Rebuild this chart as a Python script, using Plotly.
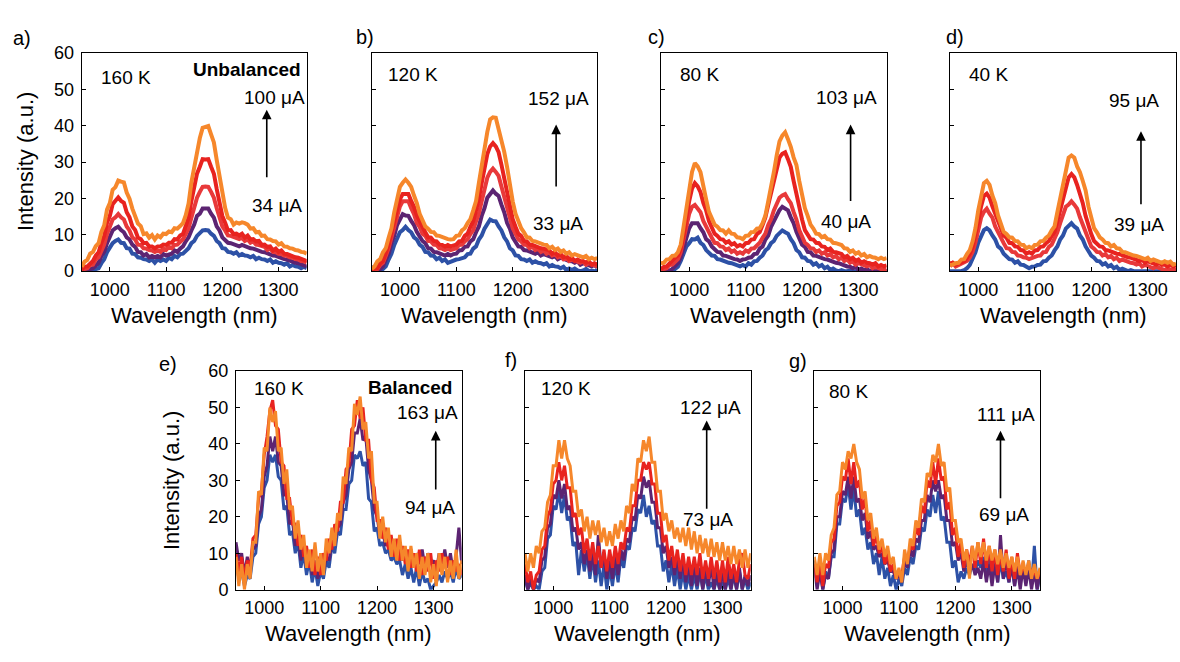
import plotly.graph_objects as go

# Wavelength grid shared by every spectrum (nm)
wavelength = list(range(950, 1351, 5))

# ---- a) 160 K, unbalanced: 34 uA (blue) ... 100 uA (orange)
a_blue = [0.0, 0.0, 0.2, 0.0, 0.1, 0.6, 0.8, 2.2, 3.3, 5.2,
          6.3, 7.7, 8.3, 8.7, 7.8, 7.7, 6.3, 6.2, 4.8, 4.7,
          3.8, 3.7, 3.3, 3.2, 2.8, 3.2, 2.3, 3.2, 2.8, 3.2,
          2.8, 3.7, 3.3, 4.2, 3.8, 4.7, 4.8, 5.7, 6.3, 7.7,
          8.3, 9.7, 10.3, 11.2, 11.3, 11.2, 10.3, 9.7, 8.3, 7.7,
          6.3, 6.2, 5.3, 5.2, 4.8, 5.2, 4.3, 4.7, 4.3, 4.2,
          3.8, 4.2, 3.3, 3.7, 3.3, 3.2, 2.8, 3.2, 2.3, 2.7,
          2.3, 2.2, 1.8, 2.2, 1.3, 1.7, 1.3, 1.2, 0.8, 1.2,
          0.8]
a_purple = [0.0, 0.2, 0.0, 0.6, 0.8, 1.7, 2.3, 4.2, 5.3, 7.7,
            9.3, 11.2, 11.8, 12.2, 11.3, 10.7, 9.3, 8.7, 7.3, 6.7,
            5.3, 5.2, 4.3, 4.7, 3.8, 4.2, 3.8, 4.2, 3.8, 4.7,
            4.3, 4.7, 4.8, 5.7, 5.3, 6.2, 6.8, 8.2, 9.3, 11.2,
            12.8, 15.2, 15.8, 17.2, 17.3, 17.2, 15.8, 14.7, 12.3, 11.2,
            9.3, 8.7, 7.8, 7.7, 7.3, 7.2, 6.8, 7.2, 6.8, 6.7,
            6.3, 6.2, 5.8, 5.7, 5.3, 5.2, 4.8, 4.7, 4.3, 4.2,
            3.8, 3.7, 3.3, 3.2, 2.8, 2.7, 2.3, 2.2, 1.8, 1.7,
            1.3]
a_red1 = [0.0, 0.6, 0.8, 1.7, 1.8, 3.2, 3.8, 5.7, 7.3, 10.2,
          12.3, 14.2, 14.8, 15.7, 14.8, 14.2, 12.3, 11.2, 9.3, 8.7,
          7.3, 7.2, 6.3, 6.2, 5.8, 5.7, 5.3, 5.7, 5.3, 6.2,
          5.8, 6.7, 6.3, 7.2, 7.3, 8.2, 8.8, 10.2, 11.8, 14.7,
          17.3, 20.2, 21.8, 23.2, 23.3, 23.2, 21.8, 20.2, 17.3, 15.2,
          12.3, 11.2, 9.8, 9.7, 9.3, 9.2, 8.8, 9.2, 8.3, 8.7,
          7.8, 8.2, 7.3, 7.2, 6.8, 6.7, 5.8, 6.2, 5.3, 5.2,
          4.8, 4.7, 4.3, 4.2, 3.8, 3.7, 3.3, 3.2, 2.8, 2.7,
          2.3]
a_red2 = [0.4, 1.2, 1.3, 2.2, 2.8, 4.3, 5.2, 7.8, 9.7, 13.3,
          15.2, 18.4, 19.2, 20.3, 19.3, 18.8, 16.2, 14.8, 12.3, 11.3,
          9.2, 8.8, 7.7, 7.8, 6.8, 6.8, 6.3, 6.8, 6.8, 7.3,
          7.2, 7.8, 7.8, 8.8, 8.7, 9.8, 10.2, 12.3, 14.7, 19.3,
          22.7, 26.8, 28.7, 30.8, 30.7, 30.8, 28.7, 26.8, 22.6, 19.3,
          15.2, 13.3, 11.2, 11.3, 10.2, 10.3, 9.8, 10.3, 9.2, 9.8,
          8.7, 8.8, 8.2, 8.3, 7.2, 7.3, 6.7, 6.8, 5.7, 6.2,
          5.3, 5.7, 4.8, 4.7, 4.3, 4.2, 3.8, 3.7, 3.3, 3.2,
          2.8]
a_orange = [1.2, 2.6, 3.1, 4.8, 5.3, 6.9, 7.7, 10.8, 12.6, 16.9,
            18.7, 22.4, 23.1, 24.9, 24.6, 24.4, 21.6, 19.9, 17.2, 15.4,
            13.1, 12.4, 10.2, 10.4, 9.2, 9.9, 8.7, 9.8, 9.3, 10.3,
            10.2, 10.9, 10.7, 11.8, 11.7, 12.4, 13.2, 15.4, 18.6, 24.4,
            28.7, 33.4, 36.6, 39.4, 39.7, 39.9, 37.6, 35.4, 30.6, 26.4,
            20.7, 17.4, 14.7, 14.3, 12.8, 13.4, 13.1, 13.4, 13.2, 12.8,
            11.7, 11.8, 10.7, 10.8, 9.7, 9.8, 8.8, 8.7, 8.3, 8.2,
            7.3, 7.7, 6.8, 6.7, 6.3, 6.2, 5.8, 5.7, 5.3, 5.2,
            4.8]

# ---- b) 120 K: 33 uA ... 152 uA
b_blue = [0.8, 1.2, 0.3, 0.0, 0.6, 1.3, 3.2, 4.8, 7.2, 8.8,
          10.7, 11.3, 12.2, 11.3, 10.7, 9.3, 8.7, 7.3, 6.7, 5.3,
          5.2, 4.3, 4.2, 3.3, 3.7, 2.8, 3.2, 2.3, 2.7, 2.8,
          3.2, 3.3, 3.7, 3.8, 4.7, 4.8, 6.2, 6.8, 8.7, 9.8,
          11.7, 12.8, 14.2, 13.8, 13.7, 12.3, 11.2, 9.3, 8.2, 6.3,
          5.7, 4.3, 4.2, 3.3, 3.2, 2.8, 3.2, 2.3, 2.7, 2.3,
          2.2, 1.8, 2.2, 1.3, 1.7, 1.3, 1.2, 0.8, 1.2, 0.3,
          0.7, 0.3, 0.7, 0.2, 0.0, 0.2, 0.6, 0.0, 0.2, 0.0,
          0.1]
b_purple = [0.0, 0.0, 0.2, 0.6, 1.3, 3.2, 4.8, 7.7, 9.8, 12.7,
            14.3, 15.7, 15.3, 15.2, 13.8, 12.7, 10.8, 9.7, 8.3, 7.7,
            6.3, 6.2, 5.3, 5.2, 4.8, 4.7, 4.3, 4.7, 4.3, 4.7,
            4.8, 5.7, 5.8, 6.7, 6.8, 8.2, 8.8, 10.7, 12.3, 15.2,
            17.3, 20.2, 21.3, 22.2, 21.3, 20.7, 18.3, 16.2, 13.3, 11.7,
            9.3, 8.2, 6.8, 6.7, 5.8, 5.7, 5.3, 5.2, 4.8, 5.2,
            4.3, 4.7, 4.3, 4.2, 3.8, 4.2, 3.3, 3.7, 3.3, 3.2,
            2.8, 2.7, 2.3, 2.7, 1.8, 2.2, 1.8, 1.7, 1.3, 1.7,
            1.0]
b_red1 = [0.0, 0.2, 0.6, 1.7, 2.3, 4.2, 6.3, 9.2, 12.3, 15.7,
          17.8, 19.2, 19.3, 19.2, 17.3, 15.7, 13.3, 12.2, 10.3, 9.7,
          8.3, 8.2, 7.3, 7.2, 6.3, 6.2, 5.8, 6.2, 5.8, 6.2,
          6.3, 7.2, 7.3, 8.2, 8.8, 10.2, 11.3, 13.7, 15.8, 19.2,
          22.3, 25.7, 27.3, 28.2, 27.3, 26.2, 23.3, 20.7, 17.3, 14.7,
          11.8, 10.2, 8.8, 8.2, 7.3, 7.2, 6.3, 6.7, 5.8, 6.2,
          5.3, 5.7, 4.8, 5.2, 4.3, 4.7, 3.8, 4.2, 3.3, 3.7,
          2.8, 3.2, 2.8, 2.7, 2.3, 2.7, 1.8, 2.2, 1.8, 1.7,
          1.3]
b_red2 = [0.0, 0.7, 0.8, 2.2, 2.8, 5.2, 7.3, 10.7, 13.8, 17.7,
          19.8, 21.2, 21.3, 21.2, 19.3, 17.7, 15.3, 13.7, 11.8, 10.7,
          9.3, 9.2, 8.3, 8.2, 7.3, 7.2, 6.8, 7.2, 6.8, 7.2,
          7.3, 8.2, 8.3, 9.7, 10.3, 12.2, 13.8, 16.7, 19.8, 24.2,
          27.8, 32.2, 34.3, 35.2, 34.3, 32.7, 29.3, 25.7, 21.3, 17.7,
          14.3, 12.2, 10.3, 9.7, 8.3, 8.2, 7.3, 7.2, 6.8, 6.7,
          6.3, 6.2, 5.8, 5.7, 4.8, 5.2, 4.3, 4.7, 3.8, 4.2,
          3.3, 3.7, 2.8, 3.2, 2.8, 2.7, 2.3, 2.7, 1.8, 2.2,
          1.8]
b_orange = [0.6, 1.3, 2.7, 3.3, 5.2, 6.3, 9.2, 11.8, 16.2, 19.8,
            23.2, 24.3, 25.2, 24.3, 23.2, 20.8, 18.7, 15.8, 14.2, 12.3,
            11.7, 10.8, 10.7, 9.8, 9.7, 9.3, 9.2, 8.8, 8.7, 8.8,
            9.7, 9.8, 11.2, 11.8, 13.2, 14.3, 16.7, 19.3, 24.2, 28.8,
            34.2, 38.3, 41.7, 42.3, 42.2, 39.3, 35.7, 32.8, 28.7, 23.3,
            19.2, 15.8, 13.7, 11.8, 10.7, 9.3, 9.2, 8.3, 8.2, 7.8,
            7.7, 7.3, 7.2, 6.3, 6.7, 5.8, 6.2, 5.3, 5.7, 4.8,
            5.2, 4.3, 4.7, 4.3, 4.2, 3.8, 4.2, 3.3, 3.7, 3.3,
            3.6]

# ---- c) 80 K: 40 uA ... 103 uA
c_blue = [0.0, 0.0, 0.1, 0.0, 0.0, 0.6, 1.2, 2.8, 4.7, 6.8,
          7.7, 8.8, 8.7, 9.2, 7.8, 7.2, 5.8, 5.2, 4.3, 4.2,
          3.3, 3.2, 2.8, 2.7, 2.3, 2.2, 1.8, 1.7, 1.3, 1.7,
          1.3, 2.2, 1.8, 2.7, 2.8, 3.7, 4.3, 5.7, 6.3, 7.7,
          8.3, 9.7, 10.3, 11.2, 10.7, 10.3, 8.8, 7.7, 5.8, 5.2,
          3.8, 3.7, 2.8, 2.7, 1.8, 2.2, 1.3, 1.7, 0.8, 1.2,
          0.3, 0.7, 0.2, 0.0, 0.3, 0.0, 0.0, 0.2, 0.0, 0.0,
          0.0, 0.1, 0.0, 0.0, 0.0, 0.0, 0.0, 0.0, 0.0, 0.0,
          0.0]
c_purple = [0.0, 0.1, 0.0, 0.2, 0.6, 1.3, 2.2, 3.8, 6.3, 9.2,
            11.8, 13.2, 13.3, 13.2, 11.8, 10.7, 8.8, 8.2, 6.8, 6.2,
            5.3, 5.2, 4.3, 4.2, 3.8, 3.7, 3.3, 3.2, 2.8, 3.2,
            3.3, 3.7, 3.8, 4.7, 4.8, 6.2, 6.8, 8.7, 9.8, 12.2,
            13.8, 15.7, 16.8, 17.7, 17.3, 16.7, 14.8, 13.2, 10.8, 9.2,
            7.3, 6.7, 5.3, 5.2, 4.3, 4.2, 3.8, 3.7, 3.3, 3.2,
            2.8, 2.7, 2.3, 2.2, 1.8, 1.7, 1.3, 1.2, 0.8, 1.2,
            0.3, 0.7, 0.3, 0.6, 0.0, 0.2, 0.0, 0.1, 0.0, 0.0,
            0.0]
c_red1 = [0.0, 0.6, 0.8, 1.7, 1.8, 2.7, 3.3, 5.2, 8.3, 12.2,
          15.8, 17.7, 18.2, 17.3, 16.2, 13.8, 12.2, 10.3, 9.2, 7.8,
          7.7, 6.8, 6.7, 5.8, 6.2, 5.3, 5.7, 4.8, 5.2, 4.8,
          5.7, 5.3, 6.2, 6.3, 7.2, 7.8, 9.2, 10.3, 12.7, 14.3,
          16.7, 18.3, 20.2, 20.8, 21.2, 19.8, 18.7, 16.3, 14.2, 11.3,
          9.7, 7.8, 7.2, 6.3, 6.2, 5.3, 5.7, 4.8, 5.2, 4.3,
          4.7, 3.8, 4.2, 3.3, 3.7, 2.8, 3.2, 2.3, 2.7, 1.8,
          2.2, 1.8, 1.7, 1.3, 1.7, 0.8, 1.2, 0.8, 0.7, 0.3,
          0.6]
c_red2 = [0.6, 1.2, 1.3, 2.2, 2.8, 3.7, 4.3, 6.2, 9.8, 14.7,
          19.3, 22.7, 24.2, 23.3, 21.7, 18.8, 16.7, 13.8, 12.2, 10.3,
          9.7, 8.8, 8.7, 7.8, 8.2, 7.3, 7.7, 6.8, 7.2, 6.8,
          7.7, 7.8, 8.7, 8.8, 10.2, 10.8, 12.7, 14.8, 18.2, 21.3,
          25.2, 28.3, 31.2, 32.3, 32.7, 30.8, 28.7, 24.8, 21.2, 16.8,
          14.2, 11.3, 10.2, 8.8, 8.7, 7.8, 7.7, 6.8, 6.7, 5.8,
          6.2, 5.3, 5.2, 4.8, 4.7, 3.8, 4.2, 3.3, 3.7, 2.8,
          3.2, 2.3, 2.7, 2.3, 2.2, 1.8, 2.2, 1.3, 1.7, 1.3,
          1.6]
c_orange = [2.2, 2.3, 3.2, 3.3, 4.2, 4.3, 5.2, 7.3, 12.2, 17.8,
            23.7, 27.3, 29.7, 28.8, 27.2, 22.8, 19.7, 16.3, 14.7, 12.8,
            12.2, 11.3, 11.2, 10.3, 11.2, 10.3, 10.2, 9.3, 9.2, 8.8,
            9.7, 9.8, 10.7, 10.8, 11.7, 11.8, 13.2, 15.3, 19.2, 22.8,
            27.2, 31.8, 35.7, 37.3, 38.2, 36.3, 34.2, 31.3, 29.2, 24.8,
            21.2, 17.3, 15.2, 12.8, 11.7, 10.3, 10.2, 9.3, 9.7, 8.8,
            8.7, 7.8, 7.7, 7.3, 7.2, 6.3, 6.2, 5.3, 5.7, 4.8,
            5.2, 4.3, 4.7, 3.8, 4.2, 3.8, 3.7, 3.3, 3.7, 3.3,
            3.6]

# ---- d) 40 K: 39 uA ... 95 uA
d_blue = [0.0, 0.0, 0.1, 0.0, 0.0, 0.3, 0.8, 1.7, 3.3, 5.2,
          7.8, 9.7, 11.3, 11.8, 11.2, 9.8, 8.7, 6.8, 6.2, 4.8,
          4.2, 3.3, 3.2, 2.3, 2.7, 1.8, 1.7, 1.3, 0.8, 1.2,
          1.3, 1.7, 1.8, 2.7, 2.8, 3.7, 4.3, 5.7, 6.8, 8.7,
          9.8, 11.7, 12.3, 13.2, 12.3, 11.7, 9.8, 8.7, 6.8, 5.7,
          4.3, 3.7, 2.8, 2.7, 1.8, 2.2, 1.3, 1.7, 0.8, 1.2,
          0.3, 0.7, 0.2, 0.0, 0.3, 0.0, 0.0, 0.1, 0.0, 0.0,
          0.0, 0.0, 0.0, 0.0, 0.0, 0.0, 0.0, 0.0, 0.0, 0.0,
          0.0]
d_red1 = [1.3, 2.2, 1.3, 1.7, 1.8, 2.3, 2.8, 3.7, 5.3, 7.8,
          11.2, 14.7, 16.3, 17.2, 15.8, 14.7, 12.3, 10.7, 8.8, 7.7,
          6.3, 6.2, 5.3, 5.2, 4.3, 4.2, 3.8, 3.7, 3.3, 3.7,
          3.8, 4.2, 4.3, 5.2, 5.3, 6.7, 7.3, 8.8, 10.7, 13.2,
          15.3, 17.7, 18.3, 19.2, 18.3, 17.2, 14.8, 12.7, 10.3, 8.7,
          6.8, 6.2, 5.3, 5.2, 4.3, 4.7, 3.8, 4.2, 3.3, 3.7,
          2.8, 3.2, 2.8, 2.7, 2.3, 2.2, 1.8, 2.2, 1.3, 1.7,
          1.3, 1.2, 0.8, 1.2, 0.8, 0.7, 0.3, 0.7, 0.3, 0.6,
          0.4]
d_red2 = [2.2, 2.3, 1.8, 2.2, 2.3, 2.8, 3.7, 4.8, 6.7, 9.8,
          13.7, 17.8, 20.7, 21.3, 20.2, 17.8, 15.7, 13.3, 11.2, 9.8,
          9.2, 7.8, 7.7, 6.8, 6.7, 5.8, 5.7, 4.8, 5.2, 4.8,
          5.7, 5.8, 6.7, 6.8, 7.7, 8.3, 9.7, 10.8, 13.7, 16.8,
          20.2, 23.7, 25.8, 26.7, 25.8, 23.7, 21.3, 18.7, 15.2, 12.3,
          10.2, 8.3, 7.7, 6.8, 6.7, 5.8, 5.7, 5.3, 5.2, 4.8,
          4.7, 4.3, 4.2, 3.8, 3.7, 3.3, 3.2, 2.8, 3.2, 2.3,
          2.7, 2.3, 2.2, 1.8, 2.2, 1.7, 1.8, 1.3, 1.7, 1.3,
          1.6]
d_orange = [1.7, 1.8, 2.2, 2.3, 3.2, 3.3, 4.7, 5.8, 8.2, 11.8,
            16.7, 20.8, 24.2, 24.8, 23.7, 20.8, 18.7, 15.3, 13.2, 10.8,
            10.2, 9.3, 9.2, 8.3, 8.2, 7.3, 7.2, 6.3, 6.7, 6.3,
            7.2, 7.3, 8.2, 8.3, 9.2, 9.8, 11.2, 12.3, 16.2, 19.8,
            23.7, 27.8, 31.2, 31.8, 31.2, 28.8, 27.2, 24.8, 22.2, 17.8,
            14.7, 11.8, 10.7, 9.3, 8.7, 7.8, 7.7, 6.8, 7.2, 6.3,
            6.2, 5.3, 5.2, 4.8, 4.7, 4.3, 4.2, 3.8, 3.7, 3.3,
            3.7, 2.8, 3.2, 2.8, 2.7, 2.3, 2.7, 2.3, 2.6, 1.8,
            2.1]

# ---- e) 160 K, balanced: 94 uA ... 163 uA
e_blue = [8, 3, 5, 1, 4, 3, 9, 10, 18, 20,
          28, 30, 37, 35, 37, 31, 30, 22, 23, 15,
          16, 10, 13, 6, 10, 4, 8, 2, 6, 1,
          5, 3, 8, 6, 12, 10, 16, 15, 22, 22,
          29, 30, 37, 36, 38, 34, 35, 25, 24, 16,
          17, 12, 13, 10, 11, 8, 9, 7, 8, 4,
          7, 3, 6, 2, 6, 1, 5, 2, 3, 0,
          1, 2, 4, 2, 5, 3, 5, 2, 6, 3,
          4]
e_purple = [13, 8, 10, 4, 9, 6, 11, 12, 20, 22,
            31, 34, 42, 38, 42, 35, 34, 26, 26, 18,
            19, 12, 15, 8, 12, 6, 10, 4, 8, 3,
            6, 5, 9, 8, 13, 13, 17, 18, 24, 26,
            33, 35, 43, 43, 47, 41, 42, 33, 30, 22,
            20, 15, 16, 12, 14, 10, 12, 9, 11, 8,
            10, 7, 11, 6, 10, 7, 11, 6, 10, 7,
            8, 5, 10, 6, 11, 6, 10, 5, 9, 17,
            7]
e_red = [10, 5, 9, 3, 8, 6, 14, 15, 25, 27,
         37, 42, 49, 52, 45, 44, 35, 34, 25, 25,
         18, 18, 12, 15, 9, 12, 6, 11, 4, 9,
         4, 10, 8, 14, 11, 18, 16, 24, 24, 33,
         34, 44, 45, 52, 47, 50, 41, 41, 30, 28,
         19, 19, 14, 17, 11, 15, 9, 14, 8, 12,
         7, 11, 6, 10, 5, 11, 4, 9, 5, 10,
         3, 8, 5, 10, 6, 9, 4, 8, 5, 7,
         4]
e_orange = [9, 1, 7, 0, 7, 3, 13, 13, 27, 26,
            39, 38, 50, 46, 49, 38, 39, 29, 33, 22,
            23, 14, 19, 11, 15, 6, 11, 5, 13, 5,
            10, 4, 14, 10, 17, 12, 21, 19, 31, 29,
            39, 38, 51, 48, 53, 44, 46, 36, 38, 24,
            24, 14, 20, 13, 17, 9, 14, 8, 15, 8,
            12, 5, 12, 6, 10, 3, 9, 4, 10, 2,
            7, 1, 10, 4, 9, 2, 8, 3, 11, 3,
            8]

# ---- f) 120 K, balanced: 73 uA ... 122 uA
f_blue = [3, 0, 2, 0, 1, 0, 5, 6, 14, 15,
          23, 22, 27, 21, 26, 19, 20, 12, 13, 4,
          11, 5, 10, 3, 9, 2, 8, 1, 7, 0,
          6, 1, 7, 2, 9, 6, 12, 11, 17, 16,
          22, 21, 26, 20, 23, 18, 19, 12, 12, 5,
          8, 2, 7, 1, 6, 0, 5, 0, 4, 0,
          4, 0, 5, 0, 4, 0, 2, 0, 3, 0,
          2, 0, 3, 0, 4, 0, 5, 0, 3, 0,
          2]
f_purple = [4, 0, 3, 0, 3, 2, 8, 9, 17, 18,
            26, 25, 30, 25, 29, 22, 23, 16, 17, 11,
            13, 7, 11, 5, 10, 4, 15, 6, 9, 3,
            8, 3, 9, 4, 11, 8, 14, 13, 20, 19,
            26, 25, 31, 28, 30, 24, 24, 17, 17, 10,
            12, 6, 9, 4, 9, 3, 8, 2, 7, 1,
            7, 1, 6, 0, 6, 1, 7, 0, 5, 0,
            5, 0, 6, 0, 5, 0, 6, 0, 4, 1,
            4]
f_red = [7, 2, 5, 0, 4, 5, 11, 12, 20, 22,
         29, 30, 35, 30, 34, 28, 28, 20, 21, 15,
         17, 10, 14, 8, 13, 7, 12, 6, 11, 5,
         11, 6, 12, 7, 13, 11, 17, 16, 23, 23,
         30, 30, 35, 33, 35, 29, 29, 21, 21, 13,
         15, 8, 12, 6, 11, 5, 10, 4, 9, 4,
         9, 4, 10, 3, 8, 3, 9, 3, 8, 2,
         8, 2, 9, 3, 7, 2, 8, 10, 4, 3,
         7]
f_orange = [10, 5, 10, 6, 12, 10, 16, 17, 24, 26,
            34, 34, 41, 36, 41, 36, 34, 27, 27, 20,
            22, 16, 20, 14, 19, 15, 19, 13, 17, 12,
            16, 12, 18, 14, 19, 16, 23, 21, 29, 27,
            36, 35, 41, 38, 42, 35, 35, 27, 27, 19,
            21, 16, 19, 14, 17, 13, 17, 12, 17, 11,
            16, 10, 15, 10, 14, 9, 14, 9, 13, 8,
            13, 8, 12, 7, 12, 7, 11, 6, 11, 6,
            10]

# ---- g) 80 K, balanced: 69 uA ... 111 uA
g_blue = [8, 2, 7, 0, 5, 3, 9, 9, 18, 18,
          25, 24, 29, 22, 28, 20, 22, 15, 17, 11,
          13, 7, 10, 4, 9, 3, 6, 1, 4, 0,
          3, 1, 6, 4, 9, 7, 12, 11, 17, 16,
          22, 20, 26, 21, 27, 19, 20, 13, 13, 6,
          8, 2, 5, 3, 6, 4, 7, 5, 8, 6,
          9, 3, 10, 4, 9, 2, 8, 3, 5, 2,
          7, 1, 8, 2, 7, 2, 8, 1, 12, 0,
          4]
g_purple = [6, 0, 5, 0, 4, 3, 10, 11, 20, 20,
            27, 26, 31, 25, 31, 24, 25, 19, 21, 14,
            16, 11, 12, 9, 10, 7, 8, 5, 5, 3,
            4, 2, 8, 6, 11, 9, 14, 13, 19, 19,
            26, 24, 30, 27, 30, 25, 26, 19, 19, 12,
            13, 8, 10, 5, 8, 5, 7, 4, 6, 3,
            8, 2, 7, 1, 7, 2, 15, 3, 9, 2,
            7, 1, 6, 0, 6, 1, 6, 0, 5, 0,
            5]
g_red = [7, 2, 8, 1, 7, 6, 13, 14, 23, 24,
         31, 30, 36, 29, 35, 28, 30, 22, 25, 16,
         19, 12, 15, 10, 12, 7, 10, 5, 7, 3,
         5, 4, 9, 8, 12, 11, 17, 15, 23, 21,
         30, 28, 35, 29, 36, 30, 31, 22, 24, 15,
         17, 9, 13, 6, 11, 7, 12, 6, 13, 7,
         14, 6, 12, 5, 11, 4, 10, 5, 11, 3,
         9, 3, 10, 4, 6, 5, 7, 4, 5, 3,
         5]
g_orange = [9, 4, 10, 4, 10, 8, 15, 17, 26, 27,
            35, 33, 38, 36, 40, 35, 33, 25, 27, 19,
            21, 14, 17, 11, 14, 9, 12, 7, 9, 3,
            6, 2, 11, 7, 14, 12, 19, 17, 25, 24,
            32, 31, 37, 35, 40, 34, 35, 27, 28, 19,
            19, 13, 14, 8, 11, 3, 12, 8, 13, 9,
            13, 8, 12, 8, 11, 7, 11, 6, 10, 6,
            9, 5, 9, 4, 8, 4, 8, 3, 7, 3,
            6]

# Tick values
x_ticks = [1000, 1100, 1200, 1300]
y_ticks = [0, 10, 20, 30, 40, 50, 60]

BLUE = "#2d51a6"
PURPLE = "#5c2472"
RED1 = "#e8393a"
RED2 = "#e8231f"
ORANGE = "#f6872b"
FONT = "Liberation Sans, Arial, Helvetica, sans-serif"

W, H = 1180, 662
TOP_Y = [1 - 269.3 / H, 1 - 44.3 / H]
BOT_Y = [1 - 597.7 / H, 1 - 372.3 / H]

panels = [
    dict(letter="a)", lx=22, ly=29, px=(81.7, 306.7), py=TOP_Y, yticks=True, width=4,
         series=[(a_blue, BLUE), (a_purple, PURPLE), (a_red1, RED1), (a_red2, RED2), (a_orange, ORANGE)],
         temp=("160 K", 1029, 53.3), tag=("Unbalanced", 1243, 55.4),
         hi=("100 μA", 1292, 47.8), lo=("34 μA", 1298, 18.0), arrow=(1279, 25.4, 44.4)),
    dict(letter="b)", lx=365, ly=28, px=(371.7, 597.3), py=TOP_Y, yticks=False, width=4,
         series=[(b_blue, BLUE), (b_purple, PURPLE), (b_red1, RED1), (b_red2, RED2), (b_orange, ORANGE)],
         temp=("120 K", 1023, 54.0), tag=None,
         hi=("152 μA", 1282, 47.4), lo=("33 μA", 1280, 13.1), arrow=(1277, 22.9, 40.3)),
    dict(letter="c)", lx=656, ly=28, px=(661.0, 886.7), py=TOP_Y, yticks=False, width=4,
         series=[(c_blue, BLUE), (c_purple, PURPLE), (c_red1, RED1), (c_red2, RED2), (c_orange, ORANGE)],
         temp=("80 K", 1018, 54.0), tag=None,
         hi=("103 μA", 1279, 47.8), lo=("40 μA", 1278, 13.6), arrow=(1286, 18.9, 40.3)),
    dict(letter="d)", lx=955, ly=28, px=(950.0, 1176.0), py=TOP_Y, yticks=False, width=4,
         series=[(d_blue, BLUE), (d_red1, RED1), (d_red2, RED2), (d_orange, ORANGE)],
         temp=("40 K", 1018, 54.0), tag=None,
         hi=("95 μA", 1275, 46.9), lo=("39 μA", 1284, 12.7), arrow=(1288, 18.0, 38.5)),
    dict(letter="e)", lx=168, ly=365, px=(236.0, 461.7), py=BOT_Y, yticks=True, width=3,
         series=[(e_blue, BLUE), (e_purple, PURPLE), (e_red, RED2), (e_orange, ORANGE)],
         temp=("160 K", 1027, 55.3), tag=("Balanced", 1259, 55.5),
         hi=("163 μA", 1289, 48.6), lo=("94 μA", 1294, 22.6), arrow=(1304, 27.1, 43.6)),
    dict(letter="f)", lx=511, ly=361, px=(525.0, 750.7), py=BOT_Y, yticks=False, width=3,
         series=[(f_blue, BLUE), (f_purple, PURPLE), (f_red, RED2), (f_orange, ORANGE)],
         temp=("120 K", 1023, 55.3), tag=None,
         hi=("122 μA", 1279, 50.1), lo=("73 μA", 1275, 19.2), arrow=(1272, 21.8, 46.4)),
    dict(letter="g)", lx=798, ly=362, px=(814.3, 1040.0), py=BOT_Y, yticks=False, width=3,
         series=[(g_blue, BLUE), (g_purple, PURPLE), (g_red, RED2), (g_orange, ORANGE)],
         temp=("80 K", 1010, 54.4), tag=None,
         hi=("111 μA", 1289, 48.2), lo=("69 μA", 1286, 20.7), arrow=(1280, 24.7, 43.6)),
]

fig = go.Figure()
layout = dict(width=W, height=H, margin=dict(l=0, r=0, t=0, b=0), autosize=False,
              paper_bgcolor="white", plot_bgcolor="white", showlegend=False,
              font=dict(family=FONT, color="black"))
annotations = []

for i, p in enumerate(panels):
    sfx = "" if i == 0 else str(i + 1)
    xa, ya = "x" + sfx, "y" + sfx
    for ys, col in p["series"]:
        fig.add_trace(go.Scatter(x=wavelength, y=ys, mode="lines", xaxis=xa, yaxis=ya,
                                 line=dict(color=col, width=p["width"], shape="linear"),
                                 hoverinfo="skip"))
    xd = [p["px"][0] / W, p["px"][1] / W]
    layout["xaxis" + sfx] = dict(domain=xd, anchor=ya, range=[950, 1350], tickvals=x_ticks,
                                 ticks="inside", ticklen=4, tickcolor="black", showgrid=False,
                                 zeroline=False, showline=True, mirror=True, linecolor="black",
                                 linewidth=1, tickfont=dict(size=18, family=FONT, color="black"),
                                 ticklabelstandoff=2)
    layout["yaxis" + sfx] = dict(domain=p["py"], anchor=xa, range=[0, 60], tickvals=y_ticks,
                                 ticks="inside", ticklen=4, tickcolor="black", showgrid=False,
                                 zeroline=False, showline=True, mirror=True, linecolor="black",
                                 linewidth=1, showticklabels=p["yticks"],
                                 tickfont=dict(size=18, family=FONT, color="black"),
                                 ticklabelstandoff=3)
    # panel letter
    annotations.append(dict(text=p["letter"], x=p["lx"] / W, y=1 - p["ly"] / H, xref="paper",
                            yref="paper", showarrow=False, font=dict(size=20),
                            xanchor="center", yanchor="middle"))
    # x-axis title
    title_y = 315 if p["py"] is TOP_Y else 643.3
    annotations.append(dict(text="Wavelength (nm)", x=(xd[0] + xd[1]) / 2, y=1 - title_y / H,
                            xref="paper", yref="paper", showarrow=False, font=dict(size=22),
                            xanchor="center", yanchor="middle"))
    if p["yticks"]:
        ty = (p["py"][0] + p["py"][1]) / 2
        tx = 25 if p["py"] is TOP_Y else 171.7
        annotations.append(dict(text="Intensity (a.u.)", x=tx / W, y=ty, xref="paper",
                                yref="paper", showarrow=False, textangle=-90,
                                font=dict(size=22), xanchor="center", yanchor="middle"))
    # in-plot labels
    for key in ("temp", "hi", "lo"):
        txt, tx, ty = p[key]
        annotations.append(dict(text=txt, x=tx, y=ty, xref=xa, yref=ya, showarrow=False,
                                font=dict(size=19), xanchor="center", yanchor="middle"))
    if p["tag"]:
        txt, tx, ty = p["tag"]
        annotations.append(dict(text="<b>" + txt + "</b>", x=tx, y=ty, xref=xa, yref=ya,
                                showarrow=False, font=dict(size=19),
                                xanchor="center", yanchor="middle"))
    ax_, tail, head = p["arrow"]
    annotations.append(dict(text="", x=ax_, y=head, ax=ax_, ay=tail, xref=xa, yref=ya,
                            axref=xa, ayref=ya, showarrow=True, arrowhead=2, arrowsize=1.2,
                            arrowwidth=1.6, arrowcolor="black"))

layout["annotations"] = annotations
fig.update_layout(**layout)
fig.write_html("out.html")
